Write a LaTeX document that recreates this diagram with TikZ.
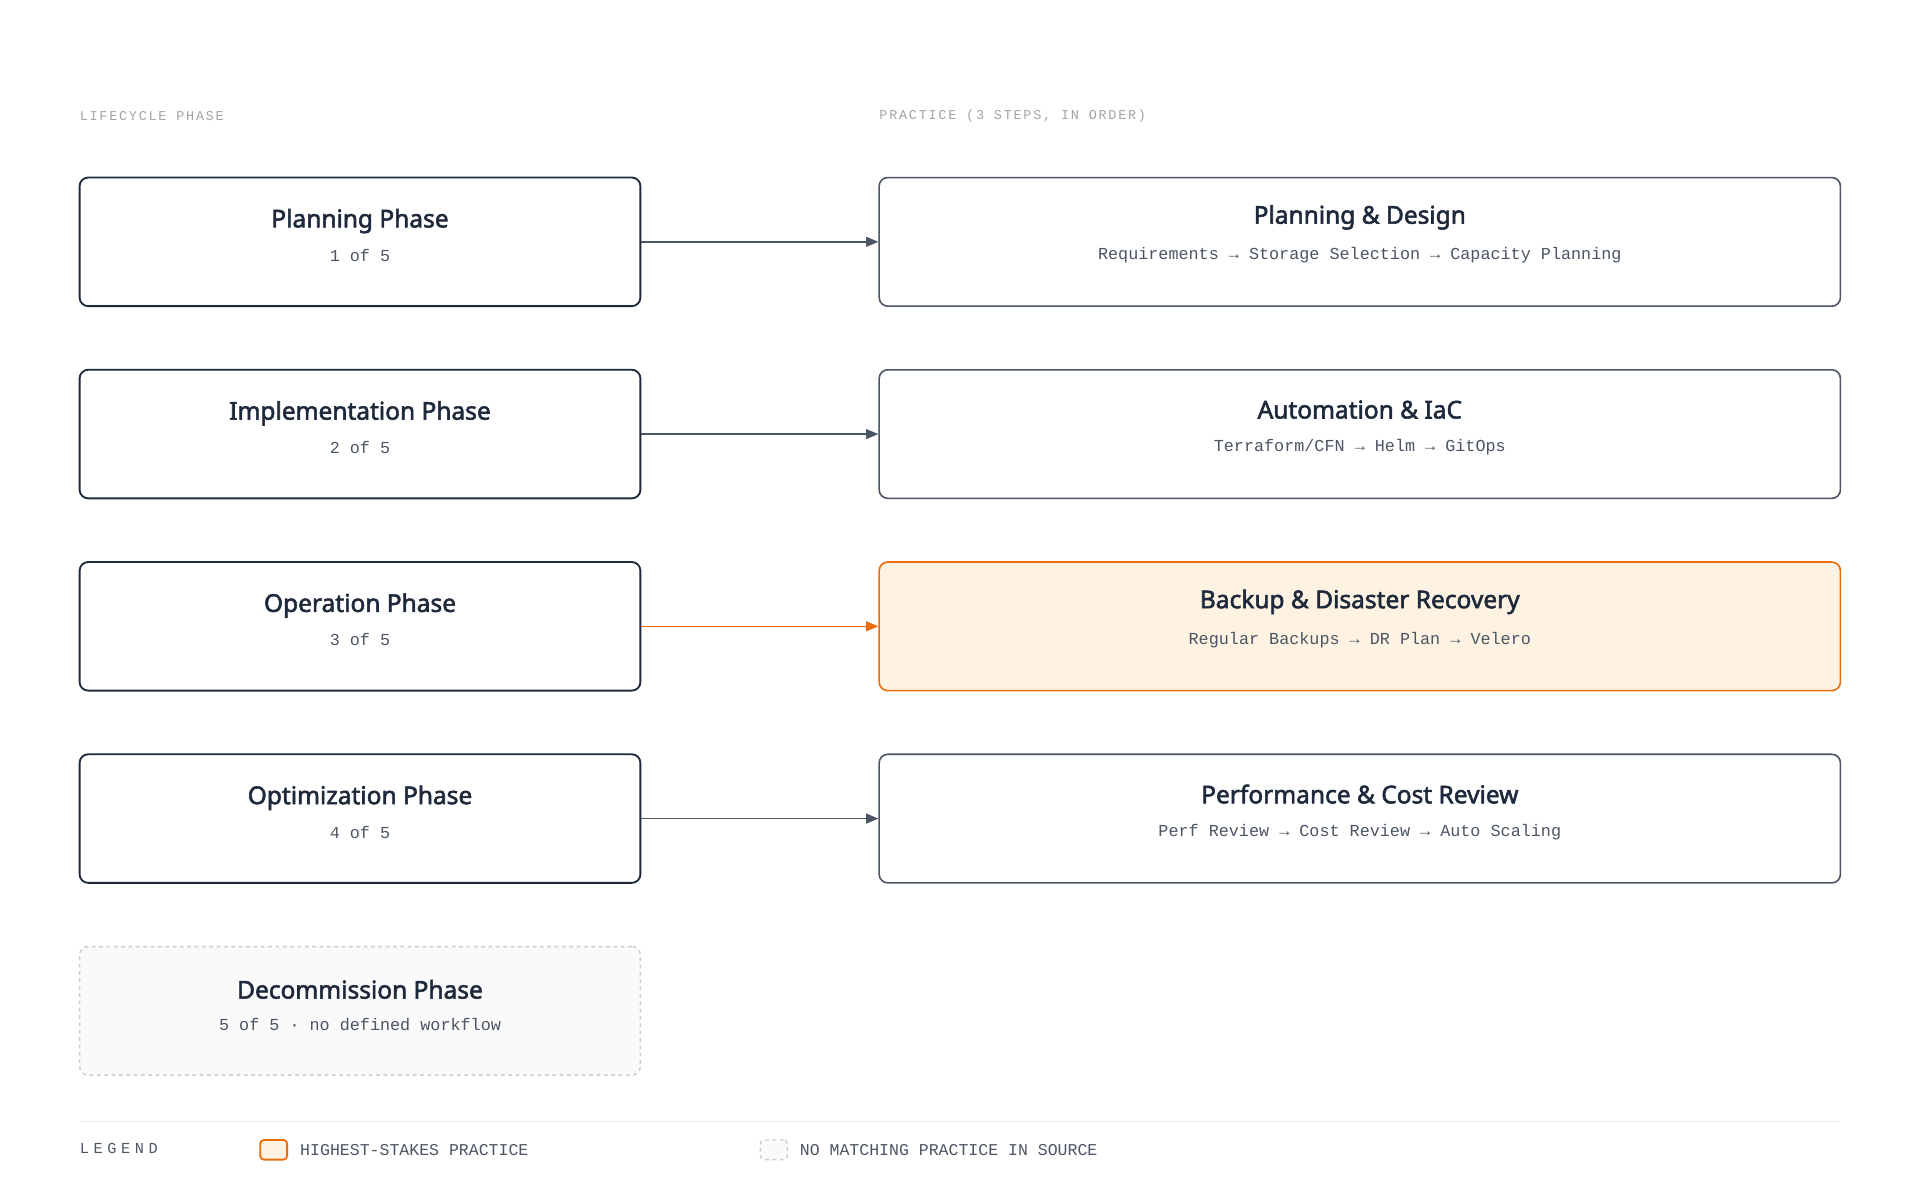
\documentclass[tikz,border=0pt]{standalone}
\usepackage{fontspec}
\setmainfont{Noto Sans}[AutoFakeBold=2.2]
\newfontfamily\mono{Liberation Mono}
\newfontfamily\hmono{Liberation Mono}[LetterSpace=13]
\newfontfamily\lmono{Liberation Mono}[LetterSpace=30]
\usetikzlibrary{arrows.meta}
\definecolor{navy}{HTML}{1E293B}
\definecolor{slate}{HTML}{4B5563}
\definecolor{org}{HTML}{EA6C0A}
\definecolor{orgfill}{HTML}{FEF3E2}
\definecolor{lgray}{HTML}{A3A3A3}
\definecolor{txt}{HTML}{4B5563}
\tikzset{
 phase/.style={draw=navy,line width=1.5pt,rounded corners=7pt,minimum width=458pt,minimum height=105pt,fill=white},
 prac/.style={draw=slate,line width=1.3pt,rounded corners=7pt,minimum width=785pt,minimum height=105pt,fill=white},
 hot/.style={prac,draw=org,fill=orgfill},
 none/.style={draw=black!20,dashed,line width=1.2pt,rounded corners=7pt,minimum width=458pt,minimum height=105pt,fill=black!2},
 ttl/.style={font=\fontsize{20}{22}\selectfont\bfseries,text=navy},
 sub/.style={font=\mono\fontsize{13.7}{15}\selectfont,text=txt},
 hdr/.style={font=\hmono\fontsize{11}{12}\selectfont,text=lgray,anchor=west,inner sep=0pt},
 leg/.style={font=\mono\fontsize{13.5}{14}\selectfont,text=txt,anchor=west,inner sep=0pt},
 arr/.style={draw=slate,line width=1.3pt,-{Triangle[length=10pt,width=8pt]}},
}
\begin{document}
\begin{tikzpicture}[x=1pt,y=-1pt]
\useasboundingbox (0,0) rectangle (1568,981.6);
\node[hdr] (h1) at (65,95) {LIFECYCLE PHASE};
\node[hdr] (h2) at (718,95) {PRACTICE (3 STEPS, IN ORDER)};
\foreach \n/\y/\t/\s in {p1/197.5/Planning Phase/1 of 5,p2/354.5/Implementation Phase/2 of 5,p3/511.5/Operation Phase/3 of 5,p4/668.5/Optimization Phase/4 of 5}{
 \node[phase] (\n) at (294,\y) {};
 \node[ttl] (\n t) at (294,\y-17) {\t};
 \node[sub] (\n s) at (294,\y+11) {\s};
}
\node[none] (p5) at (294,825.5) {};
\node[ttl] (p5t) at (294,808) {Decommission Phase};
\node[sub] (p5s) at (294,836.5) {5 of 5 · no defined workflow};
\node[prac] (q1) at (1110.5,197.5) {};
\node[ttl] (q1t) at (1110.5,177.5) {Planning \& Design};
\node[sub] (q1s) at (1110.5,208.5) {Requirements → Storage Selection → Capacity Planning};
\node[prac] (q2) at (1110.5,354.5) {};
\node[ttl] (q2t) at (1110.5,334.5) {Automation \& IaC};
\node[sub] (q2s) at (1110.5,365.5) {Terraform/CFN → Helm → GitOps};
\node[hot] (q3) at (1110.5,511.5) {};
\node[ttl] (q3t) at (1110.5,491.5) {Backup \& Disaster Recovery};
\node[sub] (q3s) at (1110.5,522.5) {Regular Backups → DR Plan → Velero};
\node[prac] (q4) at (1110.5,668.5) {};
\node[ttl] (q4t) at (1110.5,648.5) {Performance \& Cost Review};
\node[sub] (q4s) at (1110.5,679.5) {Perf Review → Cost Review → Auto Scaling};
\draw[arr] (p1) -- (q1);
\draw[arr] (p2) -- (q2);
\draw[arr,draw=org] (p3) -- (q3);
\draw[arr] (p4) -- (q4);
\coordinate (la) at (65,916); \coordinate (lb) at (1503,916);
\draw[black!8,line width=1.2pt] (la) -- (lb);
\node[leg,font=\lmono\fontsize{12.5}{14}\selectfont] (lg) at (65,938) {LEGEND};
\node[draw=org,fill=orgfill,line width=1.5pt,rounded corners=3pt,minimum width=22pt,minimum height=16pt] (s1) at (223.5,939) {};
\node[leg] (l1) at (245,939.5) {HIGHEST-STAKES PRACTICE};
\node[draw=black!20,dashed,fill=black!2,line width=1.2pt,rounded corners=3pt,minimum width=22pt,minimum height=16pt] (s2) at (632,939) {};
\node[leg] (l2) at (653,939.5) {NO MATCHING PRACTICE IN SOURCE};
\end{tikzpicture}
\end{document}
